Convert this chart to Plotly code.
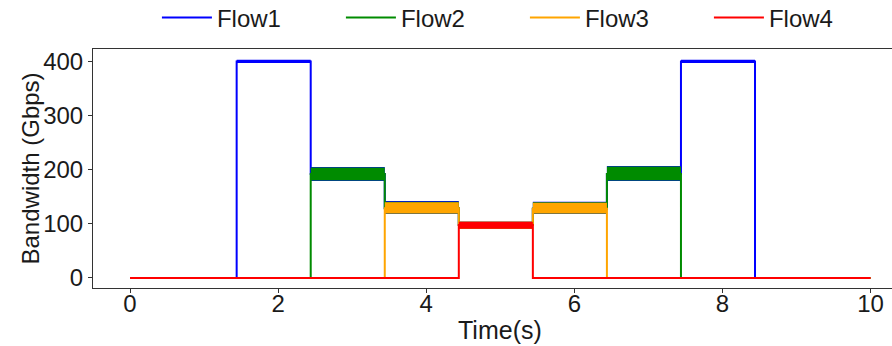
import plotly.graph_objects as go

# ---- data ----
phase_starts = [0.0, 1.44, 2.44, 3.44, 4.44, 5.44, 6.44, 7.44, 8.44]
end_time = 10.0

flow_names = ["Flow1", "Flow2", "Flow3", "Flow4"]

flow1_bw = [0, 400, 192, 129, 98, 128, 192, 400, 0]
flow2_bw = [0, 0, 192, 129, 98, 128, 192, 0, 0]
flow3_bw = [0, 0, 0, 129, 98, 128, 0, 0, 0]
flow4_bw = [0, 0, 0, 0, 98, 0, 0, 0, 0]

# observed noise envelope (min / max Gbps) of each flow during each phase
flow1_low = [0, 397, 179, 118, 91, 118, 179, 397, 0]
flow1_high = [0, 403, 205, 142, 104, 141, 207, 403, 0]
flow2_low = [0, 0, 180, 119, 91, 119, 180, 0, 0]
flow2_high = [0, 0, 204, 141, 104, 140, 206, 0, 0]
flow3_low = [0, 0, 0, 119, 91, 119, 0, 0, 0]
flow3_high = [0, 0, 0, 140, 104, 139, 0, 0, 0]
flow4_low = [0, 0, 0, 0, 91, 0, 0, 0, 0]
flow4_high = [0, 0, 0, 0, 104, 0, 0, 0, 0]

x_ticks = [0, 2, 4, 6, 8, 10]
y_ticks = [0, 100, 200, 300, 400]
x_title = "Time(s)"
y_title = "Bandwidth (Gbps)"

colors = ["#0000FF", "#008B00", "#FFA500", "#FF0000"]

levels = [flow1_bw, flow2_bw, flow3_bw, flow4_bw]
lows = [flow1_low, flow2_low, flow3_low, flow4_low]
highs = [flow1_high, flow2_high, flow3_high, flow4_high]

x_pts = phase_starts + [end_time]

fig = go.Figure()
for name, col, lv, lo, hi in zip(flow_names, colors, levels, lows, highs):
    fig.add_trace(go.Scatter(x=x_pts, y=lo + [lo[-1]], mode="lines",
                             line=dict(shape="hv", width=0, color=col),
                             showlegend=False, hoverinfo="skip"))
    fig.add_trace(go.Scatter(x=x_pts, y=hi + [hi[-1]], mode="lines",
                             line=dict(shape="hv", width=0, color=col),
                             fill="tonexty", fillcolor=col,
                             showlegend=False, hoverinfo="skip"))
    fig.add_trace(go.Scatter(x=x_pts, y=lv + [lv[-1]], mode="lines", name=name,
                             line=dict(shape="hv", width=2, color=col)))

font_family = "Liberation Sans, Arial, sans-serif"
txt = "#1a1a1a"

fig.update_layout(
    width=892, height=346,
    margin=dict(l=93, r=0, t=49, b=58, autoexpand=False),
    paper_bgcolor="white", plot_bgcolor="white",
    font=dict(family=font_family, color=txt, size=24),
    showlegend=True,
    legend=dict(orientation="h", x=0.0800, xanchor="left", y=1.13, yanchor="middle",
                traceorder="normal",
                font=dict(size=24, color=txt),
                entrywidth=119, entrywidthmode="pixels",
                itemwidth=50, bgcolor="rgba(0,0,0,0)"),
    xaxis=dict(range=[-0.5, 10.29], tickvals=x_ticks, ticktext=[str(v) for v in x_ticks],
               showgrid=False, zeroline=False,
               showline=True, linecolor="#333333", linewidth=1, mirror=True,
               ticks="outside", ticklen=4, tickcolor="#333333",
               ticklabelstandoff=-10,
               tickfont=dict(size=24, color=txt)),
    yaxis=dict(range=[-18.5, 423], tickvals=y_ticks, ticktext=[str(v) for v in y_ticks],
               showgrid=False, zeroline=False,
               showline=True, linecolor="#333333", linewidth=1,
               ticks="outside", ticklen=4, tickcolor="#333333",
               tickfont=dict(size=24, color=txt)),
    annotations=[
        dict(text=x_title, x=5, xref="x", y=-0.175, yref="paper",
             xanchor="center", yanchor="middle", showarrow=False,
             font=dict(size=25, color=txt)),
        dict(text=y_title, x=-0.0776, xref="paper", y=0.5, yref="paper",
             xanchor="center", yanchor="middle", textangle=-90, showarrow=False,
             font=dict(size=24, color=txt)),
    ],
)

fig.write_html("out.html", config={"displayModeBar": False},
               post_script="document.body.style.margin='0';")
